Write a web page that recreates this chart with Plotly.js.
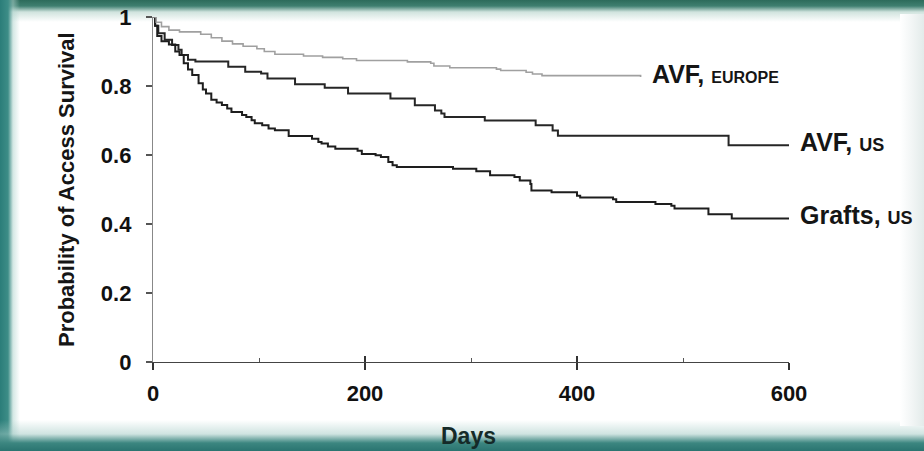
<!DOCTYPE html>
<html>
<head>
<meta charset="utf-8">
<script src="https://cdn.plot.ly/plotly-3.0.1.min.js"></script>
<style>
  html, body { margin: 0; padding: 0; background: #ffffff; overflow: hidden; width: 924px; height: 451px; }
  #wrap { position: relative; width: 924px; height: 451px; overflow: hidden; background: #ffffff; }
  .band { position: absolute; z-index: 0; }
  #top { left: 0px; top: 0px; width: 924px; height: 24px;
         background: linear-gradient(to bottom, #2d6b5b 0px, #3f7f70 6px, rgba(170,205,195,0.55) 12px, rgba(255,255,255,0) 22px); }
  #left { left: 0px; top: 0px; width: 22px; height: 451px;
          background: linear-gradient(to right, #2b7d79 0px, #3d8d87 8px, rgba(175,212,206,0.55) 13px, rgba(255,255,255,0) 20px); }
  #bottom { left: 0px; top: 420px; width: 924px; height: 31px;
            background: linear-gradient(to top, #2a7470 0px, #3c8680 8px, rgba(160,200,195,0.5) 17px, rgba(255,255,255,0) 31px); }
  #right { left: 900px; top: 14px; width: 24px; height: 412px;
           background: linear-gradient(to right, #ffffff 0px, #f4f7f7 10px, #e3ebea 24px); }
  #chart { position: absolute; left: 0px; top: 0px; width: 924px; height: 451px; z-index: 1; }
</style>
</head>
<body>
<div id="wrap">
  <div class="band" id="top"></div>
  <div class="band" id="left"></div>
  <div class="band" id="bottom"></div>
  <div class="band" id="right"></div>
  <div id="chart"></div>
</div>
<script>
// Kaplan-Meier style step curves (days, survival probability)
const europeDays = [0, 3, 8, 15, 25, 45, 55, 65, 75, 85, 98, 105, 115, 142, 160, 179, 192, 240, 262, 265, 280, 324, 328, 352, 358, 367, 460];
const europeSurv = [1.0, 0.985, 0.972, 0.962, 0.957, 0.950, 0.940, 0.930, 0.922, 0.915, 0.908, 0.900, 0.892, 0.887, 0.883, 0.879, 0.874, 0.870, 0.866, 0.858, 0.853, 0.849, 0.845, 0.840, 0.835, 0.830, 0.826];

const avfUsDays = [0, 2, 5, 11, 18, 24, 27, 33, 40, 71, 87, 102, 108, 134, 162, 184, 224, 247, 266, 272, 275, 313, 361, 377, 382, 543, 600];
const avfUsSurv = [1.0, 0.975, 0.953, 0.934, 0.919, 0.905, 0.890, 0.876, 0.871, 0.856, 0.841, 0.836, 0.822, 0.805, 0.795, 0.778, 0.764, 0.744, 0.729, 0.720, 0.710, 0.700, 0.686, 0.671, 0.656, 0.628, 0.628];

const graftDays = [0, 2, 4, 8, 15, 21, 25, 29, 33, 37, 43, 47, 50, 55, 60, 65, 70, 74, 84, 88, 93, 96, 103, 109, 115, 128, 150, 156, 159, 165, 172, 193, 197, 210, 215, 222, 226, 230, 283, 305, 318, 341, 346, 356, 357, 376, 400, 403, 434, 437, 474, 489, 492, 524, 546, 600];
const graftSurv = [1.0, 0.975, 0.945, 0.930, 0.920, 0.900, 0.890, 0.866, 0.848, 0.832, 0.808, 0.790, 0.778, 0.760, 0.752, 0.745, 0.735, 0.725, 0.716, 0.710, 0.701, 0.692, 0.686, 0.677, 0.672, 0.655, 0.647, 0.638, 0.633, 0.625, 0.618, 0.612, 0.603, 0.599, 0.594, 0.580, 0.570, 0.565, 0.560, 0.553, 0.541, 0.536, 0.526, 0.516, 0.497, 0.492, 0.482, 0.477, 0.472, 0.464, 0.458, 0.453, 0.445, 0.428, 0.416, 0.416];

const xTickVals = [0, 200, 400, 600];
const xMinorVals = [100, 300, 500];
const yTickVals = [0, 0.2, 0.4, 0.6, 0.8, 1];
const yTickText = ['0', '0.2', '0.4', '0.6', '0.8', '1'];

const seriesLabels = ['AVF, <span style="font-size:16px">EUROPE</span>', 'AVF, <span style="font-size:18px">US</span>', 'Grafts, <span style="font-size:18px">US</span>'];

const FONT = 'Liberation Sans, Arial, Helvetica, sans-serif';

const traces = [
  { x: europeDays, y: europeSurv, xaxis: 'x2', yaxis: 'y', mode: 'lines', line: { shape: 'hv', color: '#a0a0a0', width: 1.6 }, hoverinfo: 'skip', showlegend: false, cliponaxis: false },
  { x: avfUsDays, y: avfUsSurv, mode: 'lines', line: { shape: 'hv', color: '#262626', width: 2 }, hoverinfo: 'skip', showlegend: false, cliponaxis: false },
  { x: graftDays, y: graftSurv, mode: 'lines', line: { shape: 'hv', color: '#1e1e1e', width: 2 }, hoverinfo: 'skip', showlegend: false, cliponaxis: false }
];

const lastOf = (a) => a[a.length - 1];
const ends = [
  { x: lastOf(europeDays), y: lastOf(europeSurv) },
  { x: lastOf(avfUsDays), y: lastOf(avfUsSurv) },
  { x: lastOf(graftDays), y: lastOf(graftSurv) }
];

const annotations = seriesLabels.map((t, i) => ({
  x: ends[i].x, y: ends[i].y, xref: 'x', yref: 'y', text: t, showarrow: false,
  xanchor: 'left', yanchor: 'middle', xshift: 9, yshift: 3,
  font: { family: FONT, size: 25, color: '#151515', weight: 'bold' }
}));

const plotW = 924 - 153 - 135, plotH = 451 - 17 - 89;
annotations.push({
  x: (67 - 153) / plotW, y: (451 - 89 - 190) / plotH, xref: 'paper', yref: 'paper',
  xanchor: 'center', yanchor: 'middle',
  text: 'Probability of Access Survival', showarrow: false,
  textangle: -90, font: { family: FONT, size: 22, color: '#151515', weight: 'bold' }
});
annotations.push({
  x: (468 - 153) / plotW, y: (451 - 89 - 436) / plotH, xref: 'paper', yref: 'paper',
  xanchor: 'center', yanchor: 'middle',
  text: 'Days', showarrow: false, font: { family: FONT, size: 23, color: '#152a28', weight: 'bold' }
});

const layout = {
  width: 924, height: 451,
  margin: { l: 153, r: 135, t: 17, b: 89 },
  paper_bgcolor: 'rgba(0,0,0,0)',
  plot_bgcolor: 'rgba(0,0,0,0)',
  showlegend: false,
  xaxis: {
    range: [0, 600], tickvals: xTickVals, ticktext: xTickVals.map(String),
    ticks: 'outside', ticklen: 7, tickwidth: 1.4, tickcolor: '#333',
    minor: { tickvals: xMinorVals, ticks: 'inside', ticklen: 4, tickwidth: 1, tickcolor: '#555' },
    showline: true, linecolor: '#444', linewidth: 1.4, showgrid: false, zeroline: false,
    ticklabelstandoff: 4,
    tickfont: { family: FONT, size: 22, color: '#111', weight: 'bold' }, fixedrange: true
  },
  xaxis2: {
    overlaying: 'x', matches: 'x', anchor: 'y', side: 'bottom',
    tickvals: xTickVals, ticks: 'inside', ticklen: 6, tickwidth: 1.4, tickcolor: '#333',
    showticklabels: false, showline: false, showgrid: false, zeroline: false, fixedrange: true
  },
  yaxis: {
    range: [0, 1], tickvals: yTickVals, ticktext: yTickText,
    ticks: 'outside', ticklen: 6, tickwidth: 1.2, tickcolor: '#555',
    showline: true, linecolor: '#888', linewidth: 1.2, showgrid: false, zeroline: false,
    ticklabelstandoff: 10,
    tickfont: { family: FONT, size: 22, color: '#111', weight: 'bold' }, fixedrange: true
  },
  annotations: annotations
};

Plotly.newPlot('chart', traces, layout, { staticPlot: true, displayModeBar: false });
</script>
</body>
</html>
